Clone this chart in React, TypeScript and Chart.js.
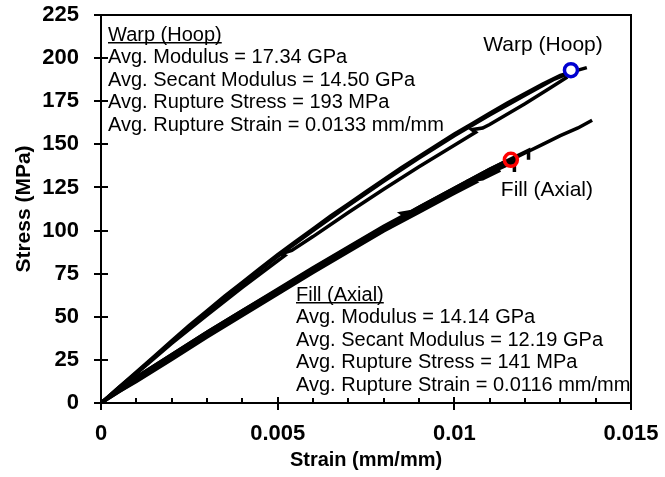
import React, { useEffect, useRef } from 'react';
import { Chart, registerables } from 'chart.js';

Chart.register(...registerables);

// ---- Warp (hoop) specimens: strain (mm/mm) and stress (MPa) ----
const WARP1_STRAIN = [0, 0.0002, 0.0005, 0.001, 0.0015, 0.002, 0.0025, 0.003, 0.0035, 0.004, 0.0045, 0.005, 0.0055, 0.006, 0.0065, 0.007, 0.0075, 0.008, 0.0085, 0.009, 0.0095, 0.01, 0.0105, 0.011, 0.0115, 0.012, 0.0125, 0.013, 0.0135, 0.01375];
const WARP1_STRESS = [0, 3.5, 9, 18, 27, 36, 45, 53.5, 62, 70, 78, 86, 93.5, 101, 108.5, 115.5, 122.5, 129.5, 136.5, 143, 149.5, 156, 162, 168, 174, 179.5, 185, 190, 193, 194.5];

const WARP2_STRAIN = [0, 0.0005, 0.001, 0.002, 0.003, 0.004, 0.005, 0.006, 0.007, 0.008, 0.009, 0.01, 0.011, 0.012, 0.0128, 0.0134];
const WARP2_STRESS = [0, 9, 17.5, 35.5, 52.5, 69, 85, 100, 114.5, 128.5, 142, 155, 167, 178.5, 187.5, 192.5];

const WARP3_STRAIN = [0, 0.0005, 0.001, 0.002, 0.003, 0.004, 0.005, 0.0052, 0.0051, 0.0054, 0.006, 0.007, 0.008, 0.009, 0.01, 0.0106, 0.0105, 0.0108, 0.011, 0.012, 0.0127, 0.0132];
const WARP3_STRESS = [0, 8.5, 17, 34.5, 51, 67, 82.5, 85.5, 86.5, 88.5, 96.5, 110.5, 124, 137, 149.5, 157, 158.5, 159.5, 161.5, 173.5, 182.5, 189];

// ---- Fill (axial) specimens ----
const FILL1_STRAIN = [0, 0.0002, 0.0005, 0.001, 0.0015, 0.002, 0.0025, 0.003, 0.0035, 0.004, 0.0045, 0.005, 0.0055, 0.006, 0.0065, 0.007, 0.0075, 0.008, 0.0085, 0.009, 0.0095, 0.01, 0.0105, 0.011, 0.0115, 0.012, 0.0125, 0.013, 0.0135, 0.0139];
const FILL1_STRESS = [0, 3, 7, 14, 20.5, 27, 33.5, 40, 46.5, 52.5, 59, 65, 71.5, 77.5, 83.5, 89.5, 95.5, 101.5, 107, 112.5, 118, 123.5, 129, 134.5, 140, 145, 150, 155, 159.5, 164];

const FILL2_STRAIN = [0, 0.0005, 0.001, 0.002, 0.003, 0.004, 0.005, 0.006, 0.007, 0.008, 0.009, 0.01, 0.011, 0.0117, 0.0117];
const FILL2_STRESS = [0, 6.5, 13, 26, 39, 51.5, 64, 76.5, 88.5, 100.5, 111.5, 122.5, 133.5, 140, 134];

const FILL3_STRAIN = [0, 0.0005, 0.001, 0.002, 0.003, 0.004, 0.005, 0.006, 0.007, 0.008, 0.009, 0.01, 0.011, 0.0121, 0.0121];
const FILL3_STRESS = [0, 7.5, 15, 28, 41, 53.5, 66, 78.5, 90.5, 102.5, 113.5, 124.5, 135.5, 146.5, 141];

const FILL4_STRAIN = [0, 0.0005, 0.001, 0.002, 0.003, 0.004, 0.005, 0.006, 0.007, 0.008, 0.009, 0.01, 0.0106, 0.0105, 0.0108, 0.0113];
const FILL4_STRESS = [0, 6.5, 12.5, 25.2, 38.2, 50.7, 63.2, 75.7, 87.7, 99.7, 110.7, 121.7, 128, 129, 130, 135];

const FILL5_STRAIN = [0, 0.0005, 0.001, 0.002, 0.003, 0.004, 0.005, 0.006, 0.007, 0.008, 0.0086, 0.0085, 0.0088, 0.009, 0.01, 0.011, 0.0114];
const FILL5_STRESS = [0, 7.5, 15, 28, 41, 53.5, 65.5, 78, 90, 102, 108.5, 110, 111, 113.5, 124.5, 135.5, 139.5];

// ---- Average rupture points ----
const WARP_RUPTURE = { strain: 0.0133, stress: 193 };
const FILL_RUPTURE = { strain: 0.0116, stress: 141 };

// ---- Axis ticks ----
const X_TICKS = [0, 0.005, 0.01, 0.015];
const X_TICK_LABELS = ['0', '0.005', '0.01', '0.015'];
const X_MINOR_STEP = 0.001;
const Y_TICKS = [0, 25, 50, 75, 100, 125, 150, 175, 200, 225];

// ---- Text ----
const WARP_NOTE = [
  'Warp (Hoop)',
  'Avg. Modulus = 17.34 GPa',
  'Avg. Secant Modulus = 14.50 GPa',
  'Avg. Rupture Stress = 193 MPa',
  'Avg. Rupture Strain = 0.0133 mm/mm',
];
const FILL_NOTE = [
  'Fill (Axial)',
  'Avg. Modulus = 14.14 GPa',
  'Avg. Secant Modulus = 12.19 GPa',
  'Avg. Rupture Stress = 141 MPa',
  'Avg. Rupture Strain = 0.0116 mm/mm',
];
const WARP_LABEL = 'Warp (Hoop)';
const FILL_LABEL = 'Fill (Axial)';

const FONT = '"Liberation Sans", Arial, Helvetica, sans-serif';

const toPoints = (xs: number[], ys: number[]) => xs.map((x, i) => ({ x, y: ys[i] }));

const curve = (xs: number[], ys: number[]) => ({
  data: toPoints(xs, ys),
  showLine: true,
  borderColor: '#000',
  borderWidth: 3.5,
  pointRadius: 0,
  tension: 0,
  fill: false,
});

const framePlugin = {
  id: 'frame',
  afterDraw(chart: any) {
    const { ctx, chartArea, scales } = chart;
    const { left, right, top, bottom } = chartArea;
    const xs = scales.x;
    const ys = scales.y;
    ctx.save();
    ctx.strokeStyle = '#000';
    ctx.lineWidth = 2;
    ctx.lineCap = 'butt';

    // Box
    ctx.beginPath();
    ctx.moveTo(left, top);
    ctx.lineTo(right, top);
    ctx.moveTo(right, top - 1);
    ctx.lineTo(right, bottom + 1);
    ctx.moveTo(left, top - 1);
    ctx.lineTo(left, bottom + 1);
    ctx.moveTo(left - 1, bottom);
    ctx.lineTo(right + 1, bottom);
    ctx.stroke();

    // Y major ticks crossing the axis
    ctx.beginPath();
    Y_TICKS.forEach((v) => {
      const y = Math.round(ys.getPixelForValue(v));
      ctx.moveTo(left - 7, y);
      ctx.lineTo(left + 7, y);
    });
    // X major ticks crossing, minor ticks inside
    X_TICKS.forEach((v) => {
      const x = Math.round(xs.getPixelForValue(v));
      ctx.moveTo(x, bottom - 6);
      ctx.lineTo(x, bottom + 7);
    });
    for (let i = 1; i < 15; i++) {
      if (i % 5 === 0) continue;
      const x = Math.round(xs.getPixelForValue(i * X_MINOR_STEP));
      ctx.moveTo(x, bottom - 5);
      ctx.lineTo(x, bottom);
    }
    ctx.stroke();

    // Text blocks inside the plot
    ctx.save();
    ctx.beginPath();
    ctx.rect(left, top, right - left + 1, bottom - top);
    ctx.clip();
    ctx.fillStyle = '#000';
    ctx.font = `20px ${FONT}`;
    ctx.textBaseline = 'middle';
    ctx.textAlign = 'left';
    const block = (lines: string[], x: number, y0: number) => {
      lines.forEach((t, i) => {
        const y = y0 + i * 22.5;
        ctx.fillText(t, x, y);
        if (i === 0) {
          const w = ctx.measureText(t).width;
          ctx.fillRect(x, y + 7, w, 1.5);
        }
      });
    };
    block(WARP_NOTE, left + 7, top + 20);
    block(FILL_NOTE, left + 195, bottom - 108);

    ctx.font = `21px ${FONT}`;
    ctx.textAlign = 'center';
    ctx.fillText(WARP_LABEL, xs.getPixelForValue(0.01251), ys.getPixelForValue(207.6));
    ctx.fillText(FILL_LABEL, xs.getPixelForValue(0.01262), ys.getPixelForValue(123.5));
    ctx.restore();

    ctx.restore();
  },
};

export default function App() {
  const canvasRef = useRef<HTMLCanvasElement | null>(null);

  useEffect(() => {
    const canvas = canvasRef.current;
    if (!canvas) return;

    const tickFont = { family: FONT, size: 22, weight: 'bold' as const };

    const chart = new Chart(canvas, {
      type: 'scatter',
      data: {
        datasets: [
          {
            data: [{ x: WARP_RUPTURE.strain, y: WARP_RUPTURE.stress }],
            pointRadius: 6.5,
            pointBorderWidth: 3.5,
            pointBorderColor: '#0000d0',
            pointBackgroundColor: '#ffffff',
            showLine: false,
          },
          {
            data: [{ x: FILL_RUPTURE.strain, y: FILL_RUPTURE.stress }],
            pointRadius: 6.5,
            pointBorderWidth: 3.5,
            pointBorderColor: '#ff0000',
            pointBackgroundColor: 'rgba(0,0,0,0)',
            showLine: false,
          },
          curve(WARP1_STRAIN, WARP1_STRESS),
          curve(WARP2_STRAIN, WARP2_STRESS),
          curve(WARP3_STRAIN, WARP3_STRESS),
          curve(FILL1_STRAIN, FILL1_STRESS),
          curve(FILL2_STRAIN, FILL2_STRESS),
          curve(FILL3_STRAIN, FILL3_STRESS),
          curve(FILL4_STRAIN, FILL4_STRESS),
          curve(FILL5_STRAIN, FILL5_STRESS),
        ] as any,
      },
      options: {
        animation: false,
        responsive: false,
        devicePixelRatio: 1,
        events: [],
        layout: { padding: { left: 0, right: 34, top: 15, bottom: 0 } },
        plugins: { legend: { display: false }, tooltip: { enabled: false } },
        scales: {
          x: {
            type: 'linear',
            min: 0,
            max: 0.015,
            border: { display: false },
            grid: { display: false, drawTicks: false },
            afterBuildTicks: (s: any) => {
              s.ticks = X_TICKS.map((v) => ({ value: v }));
            },
            ticks: {
              color: '#000',
              font: tickFont,
              padding: 18,
              maxRotation: 0,
              autoSkip: false,
              callback: (v: any) => {
                const i = X_TICKS.findIndex((t) => Math.abs(t - Number(v)) < 1e-9);
                return i >= 0 ? X_TICK_LABELS[i] : '';
              },
            },
            title: {
              display: true,
              text: 'Strain (mm/mm)',
              color: '#000',
              font: { family: FONT, size: 20, weight: 'bold' as const },
              padding: { top: 0, bottom: 5 },
            },
            afterFit: (s: any) => {
              s.height = 74;
              s.paddingLeft = 0;
              s.paddingRight = 0;
            },
          },
          y: {
            type: 'linear',
            min: 0,
            max: 225,
            border: { display: false },
            grid: { display: false, drawTicks: false },
            afterBuildTicks: (s: any) => {
              s.ticks = Y_TICKS.map((v) => ({ value: v }));
            },
            ticks: {
              color: '#000',
              font: tickFont,
              padding: 22,
              autoSkip: false,
              callback: (v: any) => String(v),
            },
            title: {
              display: true,
              text: 'Stress (MPa)',
              color: '#000',
              font: { family: FONT, size: 21, weight: 'bold' as const },
              padding: { top: 12, bottom: 0 },
            },
            afterFit: (s: any) => {
              s.width = 101;
              s.paddingTop = 0;
              s.paddingBottom = 0;
            },
          },
        },
      },
      plugins: [framePlugin],
    });

    return () => chart.destroy();
  }, []);

  return (
    <div style={{ position: 'absolute', left: 0, top: 0, width: 665, height: 477, background: '#fff' }}>
      <canvas ref={canvasRef} width={665} height={477} style={{ display: 'block' }} />
    </div>
  );
}
